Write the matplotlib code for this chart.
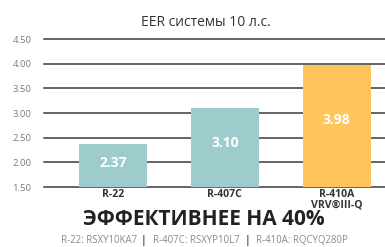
import matplotlib
matplotlib.use("Agg")
import matplotlib.pyplot as plt

# EER values for 10 HP systems
categories = ["R-22", "R-407C", "R-410A\nVRV\u00aeIII-Q"]
eer_values = [2.37, 3.10, 3.98]
bar_colors = ["#9ecbcc", "#9ecbcc", "#ffc45c"]
y_ticks = [1.50, 2.00, 2.50, 3.00, 3.50, 4.00, 4.50]

title_text = "EER системы 10 л.с."
headline = "ЭФФЕКТИВНЕЕ НА 40%"
footer_parts = ["R-22: RSXY10KA7", "R-407C: RSXYP10L7", "R-410A: RQCYQ280P"]

plt.rcParams["font.family"] = ["Open Sans", "DejaVu Sans"]

fig = plt.figure(figsize=(3.85, 2.47), dpi=100)
ax = fig.add_axes([44 / 385, 1 - 187 / 247, 341 / 385, 148 / 247])

x = list(range(len(categories)))
ax.bar(x, [v - y_ticks[0] for v in eer_values], bottom=y_ticks[0],
       width=0.607, color=bar_colors, zorder=2)

for yt in y_ticks:
    ax.axhline(yt, color="#3a3a3a", lw=1.1, zorder=1, clip_on=False)

ax.set_xlim(-0.616, 2.43)
ax.set_ylim(y_ticks[0], y_ticks[-1])
ax.set_yticks(y_ticks)
ax.set_yticklabels([f"{t:.2f}" for t in y_ticks], color="#7a7a7a", fontsize=6.8)
ax.tick_params(axis="y", length=0, pad=9)
ax.set_xticks(x)
ax.set_xticklabels(categories, fontsize=7.6, fontweight="bold", color="#333333",
                   linespacing=0.95, va="top")
ax.tick_params(axis="x", length=0, pad=1.5)
for s in ax.spines.values():
    s.set_visible(False)

# value labels inside bars
label_y = [1.98, 2.40, 2.86]
for xi, v, ly in zip(x, eer_values, label_y):
    ax.text(xi, ly, f"{v:.2f}", ha="center", va="center", color="white",
            fontsize=10, fontweight="bold", zorder=3)

fig.text(206 / 385, 1 - 22 / 247, title_text, ha="center", va="center",
         fontsize=10, color="#333333")
fig.text(204 / 385, 1 - 219 / 247, headline, ha="center", va="center",
         fontsize=15, fontweight="bold", color="#222222")

# footer: model names separated by darker bars
footer_x = [99, 196, 302]
sep_x = [144, 248]
for fx, part in zip(footer_x, footer_parts):
    fig.text(fx / 385, 1 - 240 / 247, part, ha="center", va="center",
             fontsize=6.9, color="#8a8a8a")
for sx in sep_x:
    fig.text(sx / 385, 1 - 240 / 247, "|", ha="center", va="center",
             fontsize=7.5, fontweight="bold", color="#555555")

fig.savefig("out.png", dpi=100)
